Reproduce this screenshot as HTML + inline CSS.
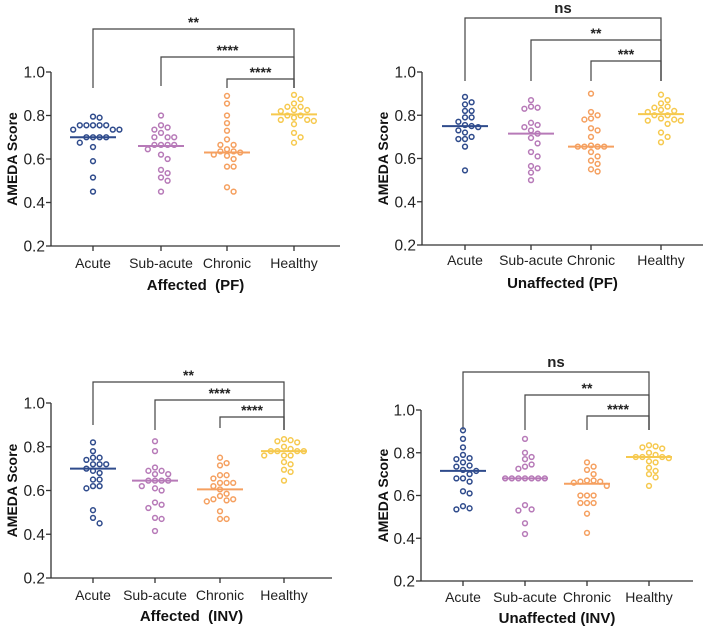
<!DOCTYPE html>
<html><head><meta charset="utf-8"><style>
html,body{margin:0;padding:0;background:#fff}
svg{display:block;font-family:"Liberation Sans",Arial,sans-serif}
</style></head><body>
<svg id="c" width="709" height="628" viewBox="0 0 709 628"></svg>
<script>
const categories = ["Acute","Sub-acute","Chronic","Healthy"];
const tickLabels = ["0.2","0.4","0.6","0.8","1.0"];
const tickValues = [0.2,0.4,0.6,0.8,1.0];
const colors = ["#2f4b8c","#b77ab8","#f5a060","#f6c94e"];
const titles = ["Affected  (PF)","Unaffected (PF)","Affected  (INV)","Unaffected (INV)"];
const sigLabels = [["**","****","****"],["ns","**","***"],["**","****","****"],["ns","**","****"]];
const p1Acute=[0.795,0.79,0.755,0.755,0.755,0.755,0.755,0.735,0.735,0.735,0.70,0.70,0.70,0.70,0.675,0.655,0.59,0.515,0.45];
const p1Sub=[0.80,0.755,0.745,0.735,0.72,0.70,0.70,0.70,0.665,0.665,0.665,0.665,0.645,0.62,0.60,0.55,0.535,0.515,0.50,0.45];
const p1Chronic=[0.89,0.855,0.80,0.765,0.73,0.69,0.665,0.665,0.645,0.635,0.635,0.63,0.62,0.615,0.60,0.565,0.565,0.47,0.45];
const p1Healthy=[0.895,0.875,0.855,0.84,0.84,0.825,0.825,0.82,0.80,0.80,0.79,0.78,0.78,0.775,0.76,0.72,0.70,0.675];
const p2Acute=[0.885,0.86,0.85,0.82,0.82,0.79,0.79,0.77,0.755,0.75,0.745,0.73,0.72,0.70,0.69,0.69,0.655,0.545];
const p2Sub=[0.87,0.84,0.835,0.83,0.765,0.755,0.745,0.73,0.715,0.695,0.67,0.63,0.61,0.565,0.555,0.535,0.50];
const p2Chronic=[0.90,0.815,0.80,0.785,0.78,0.74,0.73,0.70,0.66,0.655,0.655,0.655,0.655,0.63,0.61,0.59,0.575,0.55,0.54];
const p2Healthy=[0.895,0.87,0.855,0.84,0.835,0.825,0.82,0.815,0.80,0.80,0.785,0.78,0.775,0.775,0.76,0.72,0.70,0.675];
const p3Acute=[0.82,0.78,0.75,0.75,0.74,0.72,0.72,0.72,0.70,0.69,0.68,0.65,0.65,0.62,0.62,0.61,0.51,0.475,0.45];
const p3Sub=[0.825,0.78,0.705,0.69,0.69,0.675,0.675,0.645,0.645,0.645,0.645,0.62,0.61,0.60,0.545,0.535,0.52,0.475,0.47,0.415];
const p3Chronic=[0.75,0.725,0.715,0.67,0.67,0.655,0.635,0.635,0.635,0.62,0.605,0.585,0.575,0.56,0.56,0.555,0.55,0.505,0.47,0.47];
const p3Healthy=[0.835,0.83,0.825,0.82,0.80,0.79,0.78,0.78,0.78,0.78,0.76,0.76,0.76,0.73,0.72,0.695,0.685,0.645];
const p4Acute=[0.905,0.865,0.825,0.79,0.775,0.77,0.755,0.74,0.735,0.72,0.715,0.70,0.68,0.68,0.665,0.62,0.61,0.55,0.54,0.535];
const p4Sub=[0.865,0.80,0.78,0.77,0.745,0.735,0.725,0.68,0.68,0.68,0.68,0.68,0.68,0.68,0.555,0.535,0.53,0.47,0.42];
const p4Chronic=[0.755,0.735,0.72,0.70,0.67,0.67,0.665,0.665,0.66,0.645,0.60,0.60,0.60,0.565,0.565,0.565,0.515,0.425];
const p4Healthy=[0.835,0.83,0.825,0.82,0.80,0.79,0.78,0.78,0.78,0.775,0.76,0.755,0.73,0.715,0.70,0.685,0.645];
const p1Medians=[0.70,0.66,0.63,0.805];
const p2Medians=[0.75,0.715,0.655,0.805];
const p3Medians=[0.70,0.645,0.605,0.78];
const p4Medians=[0.715,0.68,0.655,0.78];
const panelData=[[p1Acute,p1Sub,p1Chronic,p1Healthy],[p2Acute,p2Sub,p2Chronic,p2Healthy],[p3Acute,p3Sub,p3Chronic,p3Healthy],[p4Acute,p4Sub,p4Chronic,p4Healthy]];
const panelMedians=[p1Medians,p2Medians,p3Medians,p4Medians];

const layouts=[
 {ax:51,yT:72,yB:246,xE:340,cx:[93,161,227,294],br:[29,57,79],bb:[88,86,88,88],cy:268,ty:290,lx:12},
 {ax:422,yT:72,yB:245,xE:703,cx:[465,531,591,661],br:[18,40,61],bb:[81,81,81,81],cy:265,ty:288,lx:383},
 {ax:51,yT:403,yB:578,xE:332,cx:[93,155,220,284],br:[382,400,417],bb:[425,430,428,430],cy:600,ty:621,lx:12},
 {ax:421,yT:410,yB:581,xE:693,cx:[463,525,587,649],br:[372,395,416],bb:[430,430,430,430],cy:602,ty:623,lx:383}
];
const NS="http://www.w3.org/2000/svg";
const svg=document.getElementById('c');
function mk(tag,attrs,parent,text){const e=document.createElementNS(NS,tag);for(const k in attrs)e.setAttribute(k,attrs[k]);if(text!==undefined)e.textContent=text;(parent||svg).appendChild(e);return e;}

layouts.forEach((L,p)=>{
  const g=mk('g',{});
  
  
  const y=v=>L.yB-(v-0.2)/0.8*(L.yB-L.yT);
  const ya=mk('line',{x1:L.ax,y1:L.yT,x2:L.ax,y2:L.yB,stroke:'#333','stroke-width':1.3},g);
  
  
  const xa=mk('line',{x1:L.ax,y1:L.yB,x2:L.xE,y2:L.yB,stroke:'#333','stroke-width':1.3},g);
  
  
  tickValues.forEach((v,i)=>{
    mk('line',{x1:L.ax-5,y1:y(v),x2:L.ax,y2:y(v),stroke:'#333','stroke-width':1.3},g);
    const t=mk('text',{x:L.ax-6,y:y(v)+5.5,'text-anchor':'end','font-size':15.5,fill:'#222'},g,tickLabels[i]);
    
    
  });
  const yl=mk('text',{x:0,y:0,transform:`translate(${L.lx+5},${(L.yT+L.yB)/2}) rotate(-90)`,'text-anchor':'middle','font-size':14,'font-weight':'bold',fill:'#111'},g,'AMEDA Score');
  
  
  categories.forEach((c,i)=>{
    mk('line',{x1:L.cx[i],y1:L.yB,x2:L.cx[i],y2:L.yB+5,stroke:'#333','stroke-width':1.3},g);
    const t=mk('text',{x:L.cx[i],y:L.cy,'text-anchor':'middle','font-size':14,fill:'#222'},g,c);
    
    
  });
  const tt=mk('text',{x:(L.ax+L.xE)/2,y:L.ty,'text-anchor':'middle','font-size':15,'font-weight':'bold',fill:'#111'},g,titles[p]);
  tt.style.whiteSpace='pre';
  
  
  for(let b=0;b<3;b++){
    const x1=L.cx[b],x2=L.cx[3],by=L.br[b];
    const pl=mk('polyline',{points:`${x1},${L.bb[b]} ${x1},${by} ${x2},${by} ${x2},${L.bb[3]}`,fill:'none',stroke:'#444','stroke-width':1.2},g);
    
    
    const lab=sigLabels[p][b];
    const st=mk('text',{x:(x1+x2)/2,y:by-(lab==='ns'?5:2),'text-anchor':'middle','font-size':lab==='ns'?15:14,'font-weight':'bold',fill:'#222'},g,lab);
    
    
  }
  panelData[p].forEach((vals,i)=>{
    const placed=[];const d=6.6;
    vals.slice().sort((a,b)=>b-a).forEach(v=>{
      const py=y(v);let ox=0;
      for(let k=0;k<20;k++){
        const cand=k===0?0:(k%2?1:-1)*Math.ceil(k/2)*d;
        if(placed.every(q=>Math.hypot(q[0]-cand,q[1]-py)>=d-0.5)){ox=cand;break;}
      }
      placed.push([ox,py]);
      const c=mk('circle',{cx:L.cx[i]+ox,cy:py,r:2.4,fill:'none',stroke:colors[i],'stroke-width':1.5},g);
      
      
    });
    const m=y(panelMedians[p][i]);
    const ml=mk('line',{x1:L.cx[i]-23,y1:m,x2:L.cx[i]+23,y2:m,stroke:colors[i],'stroke-width':2},g);
    
    
  });
});
</script>
</body></html>
